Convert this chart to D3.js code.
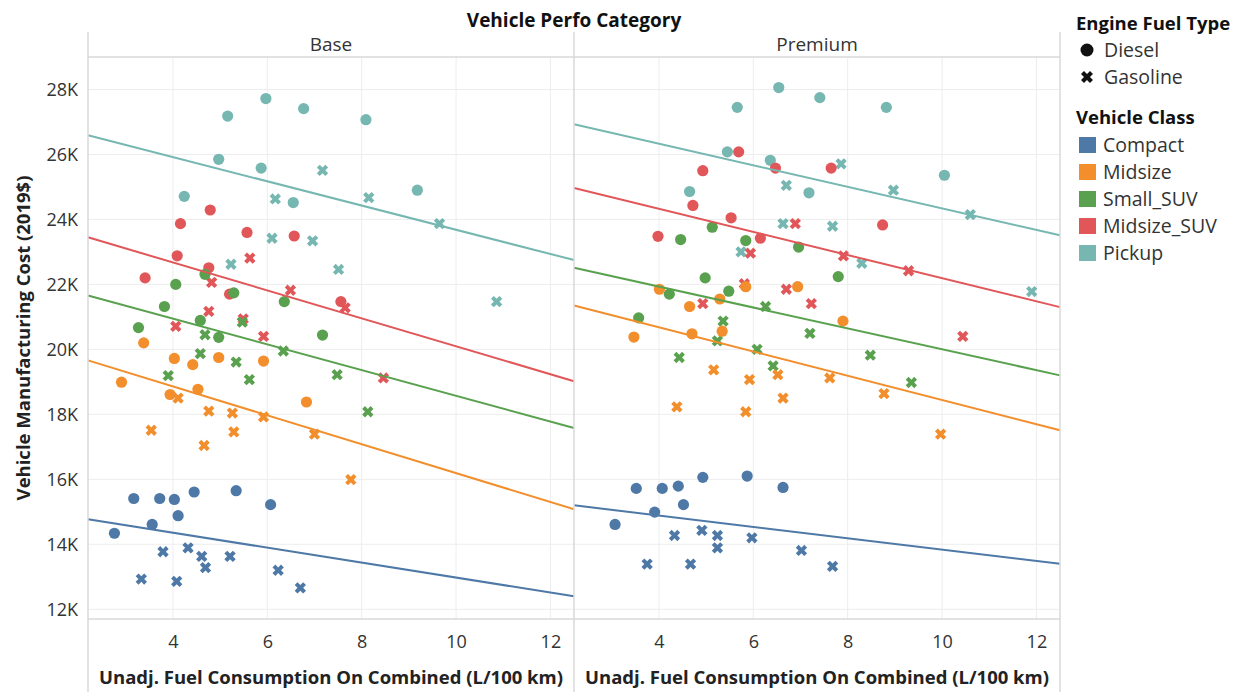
<!DOCTYPE html>
<html>
<head>
<meta charset="utf-8">
<script src="https://cdn.jsdelivr.net/npm/d3@7"></script>
<style>
  body { margin: 0; background: #fff; }
  text { font-family: "Open Sans", sans-serif; fill: #333; }
</style>
</head>
<body>
<svg id="chart" width="1242" height="692"></svg>
<script>
const perfoCategories = ["Base", "Premium"];
const vehicleClasses = ["Compact", "Midsize", "Small_SUV", "Midsize_SUV", "Pickup"];
const classColors = ["#4e79a7", "#f28e2b", "#59a14f", "#e15759", "#76b7b2"];
const fuelTypes = ["Diesel", "Gasoline"];
const xTicks = [4, 6, 8, 10, 12];
const yTicks = [12000, 14000, 16000, 18000, 20000, 22000, 24000, 26000, 28000];

// rows: [fuel, L/100 km, cost 2019$]
const baseCompact = [
  ["Diesel", 2.76, 14340], ["Diesel", 3.17, 15410], ["Diesel", 3.56, 14610], ["Diesel", 3.72, 15410], ["Diesel", 4.03, 15380],
  ["Diesel", 4.11, 14880], ["Diesel", 4.45, 15610], ["Diesel", 5.34, 15650], ["Diesel", 6.07, 15220],
  ["Gasoline", 3.33, 12930], ["Gasoline", 3.79, 13770], ["Gasoline", 4.08, 12860], ["Gasoline", 4.32, 13890], ["Gasoline", 4.61, 13630],
  ["Gasoline", 4.69, 13280], ["Gasoline", 5.21, 13630], ["Gasoline", 6.23, 13200], ["Gasoline", 6.70, 12660]
];
const baseMidsize = [
  ["Diesel", 2.91, 18990], ["Diesel", 3.38, 20200], ["Diesel", 3.94, 18610], ["Diesel", 4.03, 19720], ["Diesel", 4.42, 19530],
  ["Diesel", 4.53, 18770], ["Diesel", 4.97, 19750], ["Diesel", 5.92, 19640], ["Diesel", 6.83, 18380],
  ["Gasoline", 3.54, 17510], ["Gasoline", 4.11, 18500], ["Gasoline", 4.66, 17040], ["Gasoline", 4.76, 18100], ["Gasoline", 5.26, 18040],
  ["Gasoline", 5.29, 17460], ["Gasoline", 5.92, 17920], ["Gasoline", 7.00, 17390], ["Gasoline", 7.77, 15990]
];
const baseSmallSuv = [
  ["Diesel", 3.27, 20670], ["Diesel", 3.82, 21320], ["Diesel", 4.06, 22000], ["Diesel", 4.58, 20890], ["Diesel", 4.68, 22310],
  ["Diesel", 4.97, 20370], ["Diesel", 5.29, 21740], ["Diesel", 6.36, 21470], ["Diesel", 7.17, 20440],
  ["Gasoline", 3.90, 19190], ["Gasoline", 4.58, 19870], ["Gasoline", 4.68, 20450], ["Gasoline", 5.34, 19610], ["Gasoline", 5.47, 20840],
  ["Gasoline", 5.62, 19070], ["Gasoline", 6.34, 19950], ["Gasoline", 7.48, 19220], ["Gasoline", 8.13, 18080]
];
const baseMidsizeSuv = [
  ["Diesel", 3.41, 22200], ["Diesel", 4.09, 22880], ["Diesel", 4.16, 23870], ["Diesel", 4.76, 22510], ["Diesel", 4.79, 24290],
  ["Diesel", 5.20, 21700], ["Diesel", 5.57, 23600], ["Diesel", 6.57, 23490], ["Diesel", 7.56, 21470],
  ["Gasoline", 4.06, 20710], ["Gasoline", 4.76, 21170], ["Gasoline", 4.82, 22060], ["Gasoline", 5.49, 20940], ["Gasoline", 5.63, 22810],
  ["Gasoline", 5.92, 20400], ["Gasoline", 6.49, 21820], ["Gasoline", 7.65, 21280], ["Gasoline", 8.46, 19120]
];
const basePickup = [
  ["Diesel", 4.24, 24710], ["Diesel", 4.97, 25850], ["Diesel", 5.16, 27180], ["Diesel", 5.87, 25580], ["Diesel", 5.97, 27720],
  ["Diesel", 6.55, 24520], ["Diesel", 6.77, 27410], ["Diesel", 8.09, 27070], ["Diesel", 9.18, 24900],
  ["Gasoline", 5.23, 22620], ["Gasoline", 6.10, 23420], ["Gasoline", 6.17, 24630], ["Gasoline", 6.96, 23340], ["Gasoline", 7.17, 25510],
  ["Gasoline", 7.51, 22460], ["Gasoline", 8.15, 24670], ["Gasoline", 9.65, 23870], ["Gasoline", 10.86, 21470]
];

const premiumCompact = [
  ["Diesel", 3.07, 14610], ["Diesel", 3.52, 15720], ["Diesel", 3.91, 14990], ["Diesel", 4.07, 15720], ["Diesel", 4.41, 15790],
  ["Diesel", 4.52, 15220], ["Diesel", 4.93, 16060], ["Diesel", 5.87, 16100], ["Diesel", 6.63, 15750],
  ["Gasoline", 3.75, 13390], ["Gasoline", 4.33, 14270], ["Gasoline", 4.67, 13390], ["Gasoline", 4.91, 14430], ["Gasoline", 5.24, 14270],
  ["Gasoline", 5.24, 13890], ["Gasoline", 5.97, 14200], ["Gasoline", 7.02, 13810], ["Gasoline", 7.68, 13320]
];
const premiumMidsize = [
  ["Diesel", 3.47, 20380], ["Diesel", 4.01, 21850], ["Diesel", 4.65, 21320], ["Diesel", 4.70, 20480], ["Diesel", 5.29, 21550],
  ["Diesel", 5.34, 20560], ["Diesel", 5.84, 21930], ["Diesel", 6.94, 21930], ["Diesel", 7.90, 20870],
  ["Gasoline", 4.38, 18230], ["Gasoline", 5.16, 19370], ["Gasoline", 5.84, 18080], ["Gasoline", 5.92, 19070], ["Gasoline", 6.52, 19220],
  ["Gasoline", 6.63, 18500], ["Gasoline", 7.62, 19120], ["Gasoline", 8.77, 18640], ["Gasoline", 9.97, 17390]
];
const premiumSmallSuv = [
  ["Diesel", 3.57, 20970], ["Diesel", 4.22, 21700], ["Diesel", 4.46, 23380], ["Diesel", 4.98, 22200], ["Diesel", 5.13, 23760],
  ["Diesel", 5.48, 21790], ["Diesel", 5.84, 23350], ["Diesel", 6.96, 23150], ["Diesel", 7.80, 22240],
  ["Gasoline", 4.43, 19750], ["Gasoline", 5.24, 20260], ["Gasoline", 5.36, 20870], ["Gasoline", 6.08, 20000], ["Gasoline", 6.26, 21320],
  ["Gasoline", 6.42, 19490], ["Gasoline", 7.20, 20490], ["Gasoline", 8.48, 19820], ["Gasoline", 9.35, 18980]
];
const premiumMidsizeSuv = [
  ["Diesel", 3.98, 23480], ["Diesel", 4.72, 24430], ["Diesel", 4.93, 25500], ["Diesel", 5.53, 24050], ["Diesel", 5.69, 26080],
  ["Diesel", 6.15, 23420], ["Diesel", 6.47, 25580], ["Diesel", 7.65, 25580], ["Diesel", 8.74, 23830],
  ["Gasoline", 4.93, 21410], ["Gasoline", 5.81, 22020], ["Gasoline", 5.94, 22960], ["Gasoline", 6.70, 21850], ["Gasoline", 6.89, 23870],
  ["Gasoline", 7.23, 21410], ["Gasoline", 7.91, 22880], ["Gasoline", 9.29, 22420], ["Gasoline", 10.44, 20400]
];
const premiumPickup = [
  ["Diesel", 4.65, 24860], ["Diesel", 5.45, 26080], ["Diesel", 5.66, 27450], ["Diesel", 6.36, 25820], ["Diesel", 6.54, 28060],
  ["Diesel", 7.18, 24820], ["Diesel", 7.41, 27750], ["Diesel", 8.82, 27450], ["Diesel", 10.05, 25360],
  ["Gasoline", 5.74, 23000], ["Gasoline", 6.63, 23870], ["Gasoline", 6.70, 25050], ["Gasoline", 7.68, 23790], ["Gasoline", 7.86, 25710],
  ["Gasoline", 8.30, 22650], ["Gasoline", 8.97, 24900], ["Gasoline", 10.60, 24150], ["Gasoline", 11.90, 21780]
];

// trend lines: cost at the left and right end of the x range, in vehicleClasses order
const trendX = [2.2, 12.5];
const baseTrend = [[14770, 12400], [19660, 15080], [21660, 17580], [23450, 19020], [26590, 22750]];
const premiumTrend = [[15200, 13400], [21350, 17510], [22510, 19200], [24970, 21300], [26930, 23510]];

const panelPoints = [
  [baseCompact, baseMidsize, baseSmallSuv, baseMidsizeSuv, basePickup],
  [premiumCompact, premiumMidsize, premiumSmallSuv, premiumMidsizeSuv, premiumPickup]
];
const panelTrends = [baseTrend, premiumTrend];

class FacetDrawer {
  constructor() {
    this.left = 88;
    this.panelWidth = 486;
    this.top = 57;
    this.bottom = 619;
    this.color = d3.scaleOrdinal().domain(vehicleClasses).range(classColors);
    this.yScale = d3.scaleLinear().domain([11700, 29000]).range([this.bottom, this.top]);
    this.crossPath = d3.symbol(d3.symbolCross, 80)();
  }

  xScaleFor(i) {
    const x0 = this.left + i * this.panelWidth;
    return d3.scaleLinear().domain(trendX).range([x0, x0 + this.panelWidth]);
  }

  draw() {
    const svg = d3.select('#chart');
    const right = this.left + this.panelWidth * perfoCategories.length;

    svg.append('text').attr('x', (this.left + right) / 2).attr('y', 27)
      .attr('text-anchor', 'middle').attr('font-size', 19).attr('font-weight', 'bold').style('fill', '#111')
      .text('Vehicle Perfo Category');

    perfoCategories.forEach((cat, i) => this.drawPanel(svg, cat, i));

    // frame lines
    const frame = svg.append('g').attr('stroke', '#d9d9d9').attr('stroke-width', 1.5);
    d3.range(perfoCategories.length + 1).forEach(i => {
      const x = this.left + i * this.panelWidth;
      frame.append('line').attr('x1', x).attr('x2', x).attr('y1', 32).attr('y2', 692);
    });
    frame.append('line').attr('x1', this.left).attr('x2', right).attr('y1', this.top).attr('y2', this.top);
    frame.append('line').attr('x1', this.left).attr('x2', right).attr('y1', this.bottom).attr('y2', this.bottom);

    this.drawYAxis(svg);
    this.drawLegend(svg);
  }

  drawPanel(svg, cat, i) {
    const xScale = this.xScaleFor(i);
    const x0 = this.left + i * this.panelWidth;
    const g = svg.append('g');

    g.append('text').attr('x', x0 + this.panelWidth / 2).attr('y', 51)
      .attr('text-anchor', 'middle').attr('font-size', 19).text(cat);

    const grid = g.append('g').attr('stroke', '#ededed').attr('stroke-width', 1);
    grid.selectAll('.vg').data(xTicks).enter().append('line')
      .attr('x1', d => xScale(d)).attr('x2', d => xScale(d)).attr('y1', this.top).attr('y2', this.bottom);
    grid.selectAll('.hg').data(yTicks).enter().append('line')
      .attr('x1', x0).attr('x2', x0 + this.panelWidth).attr('y1', d => this.yScale(d)).attr('y2', d => this.yScale(d));

    const xAxis = d3.axisBottom(xScale).tickValues(xTicks).tickSize(0).tickPadding(16);
    const axisG = g.append('g').attr('transform', `translate(0, ${this.bottom})`).call(xAxis);
    axisG.select('.domain').remove();
    axisG.selectAll('text').attr('font-size', 18).style('font-family', '"Open Sans", sans-serif').style('fill', '#333');

    g.append('text').attr('x', x0 + this.panelWidth / 2).attr('y', 684)
      .attr('text-anchor', 'middle').attr('font-size', 18.5).attr('font-weight', 'bold').style('fill', '#222')
      .text('Unadj. Fuel Consumption On Combined (L/100 km)');

    // marks, drawn from the last class to the first
    const marks = g.append('g');
    const classOrder = d3.range(vehicleClasses.length).reverse();
    classOrder.forEach(c => {
      const rows = panelPoints[i][c];
      const fill = this.color(vehicleClasses[c]);
      rows.forEach(r => {
        const px = xScale(r[1]);
        const py = this.yScale(r[2]);
        if (r[0] === fuelTypes[0]) {
          marks.append('circle').attr('cx', px).attr('cy', py).attr('r', 5.6).attr('fill', fill);
        } else {
          marks.append('path').attr('d', this.crossPath)
            .attr('transform', `translate(${px},${py}) rotate(45)`).attr('fill', fill);
        }
      });
    });

    const line = d3.line().x(d => xScale(d[0])).y(d => this.yScale(d[1]));
    g.append('g').selectAll('path').data(panelTrends[i]).enter().append('path')
      .attr('fill', 'none').attr('stroke-width', 2)
      .attr('stroke', (d, c) => this.color(vehicleClasses[c]))
      .attr('d', d => line([[trendX[0], d[0]], [trendX[1], d[1]]]));
  }

  drawYAxis(svg) {
    const yAxis = d3.axisLeft(this.yScale).tickValues(yTicks).tickSize(0).tickPadding(10)
      .tickFormat(d => (d / 1000) + 'K');
    const yg = svg.append('g').attr('transform', `translate(${this.left}, 0)`).call(yAxis);
    yg.select('.domain').remove();
    yg.selectAll('text').attr('font-size', 18).style('font-family', '"Open Sans", sans-serif').style('fill', '#333');

    svg.append('text').attr('transform', `translate(30, ${(this.top + this.bottom) / 2}) rotate(-90)`)
      .attr('text-anchor', 'middle').attr('font-size', 18.5).attr('font-weight', 'bold').style('fill', '#222')
      .text('Vehicle Manufacturing Cost (2019$)');
  }

  drawLegend(svg) {
    const lg = svg.append('g').attr('transform', 'translate(1076, 0)');
    lg.append('text').attr('x', 0).attr('y', 30).attr('font-size', 18.5).attr('font-weight', 'bold').style('fill', '#111')
      .text('Engine Fuel Type');
    fuelTypes.forEach((f, i) => {
      const cy = 50 + i * 27;
      if (i === 0) {
        lg.append('circle').attr('cx', 11).attr('cy', cy).attr('r', 6.5).attr('fill', '#111');
      } else {
        lg.append('path').attr('d', d3.symbol(d3.symbolCross, 90)()).attr('transform', `translate(11,${cy}) rotate(45)`).attr('fill', '#111');
      }
      lg.append('text').attr('x', 28).attr('y', cy + 7).attr('font-size', 19.5).text(f);
    });

    lg.append('text').attr('x', 0).attr('y', 124).attr('font-size', 18.5).attr('font-weight', 'bold').style('fill', '#111')
      .text('Vehicle Class');
    vehicleClasses.forEach((vc, i) => {
      const cy = 145 + i * 27;
      lg.append('rect').attr('x', 3).attr('y', cy - 8).attr('width', 17).attr('height', 16).attr('fill', this.color(vc));
      lg.append('text').attr('x', 27).attr('y', cy + 7).attr('font-size', 19.5).text(vc);
    });
  }
}

new FacetDrawer().draw();
</script>
</body>
</html>
